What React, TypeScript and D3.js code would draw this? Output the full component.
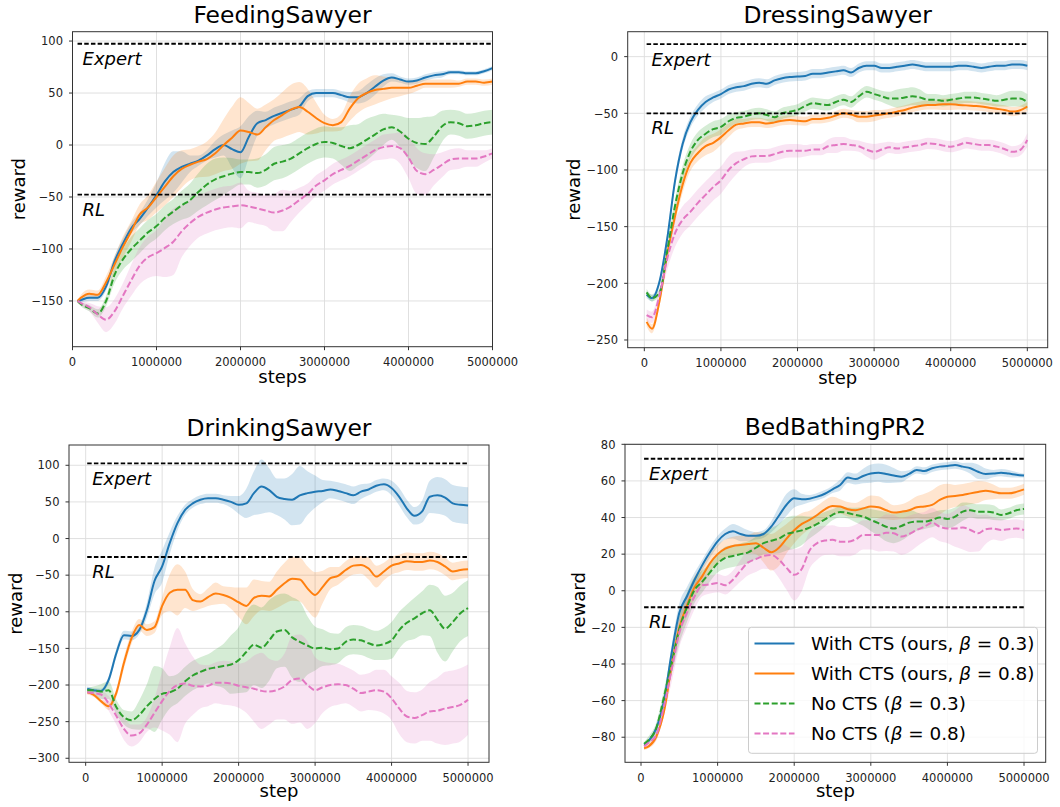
import React from 'react';
import * as d3 from 'd3';

// ---------- data ----------
// step grid (millions of steps) shared by all panels; each panel has its own first step
const GRID_M = [0.1, 0.2, 0.3, 0.4, 0.5, 0.6, 0.7, 0.8, 0.9, 1.0, 1.1, 1.2, 1.3, 1.4, 1.5, 1.6, 1.7, 1.8, 1.9, 2.0, 2.1, 2.2, 2.3, 2.4, 2.5, 2.6, 2.7, 2.8, 2.9, 3.0, 3.1, 3.2, 3.3, 3.4, 3.5, 3.6, 3.7, 3.8, 3.9, 4.0, 4.1, 4.2, 4.3, 4.4, 4.5, 4.6, 4.7, 4.8, 4.9, 5.0];

const SERIES_NAMES = ['With CTS (ours, β = 0.3)', 'With CTS (ours, β = 0.8)', 'No CTS (β = 0.3)', 'No CTS (β = 0.8)'];
const SERIES_COLORS = ['#1f77b4', '#ff7f0e', '#2ca02c', '#e377c2'];
const SERIES_DASHED = [false, false, true, true];

// FeedingSawyer
const FEED_START = 0.06;
const FEED_EXPERT = 97.4;
const FEED_RL = -47.8;
const FEED_CTS03 = [-150, -149, -147, -147, -136, -112, -95, -80, -71, -60, -48, -35, -26, -21, -18, -15, -10, -4, 0, -4, -7, 8, 21, 24, 28, 31, 34, 37, 47, 50, 50, 50, 48, 46, 46, 50, 56, 62, 65, 63, 61, 62, 65, 67, 68, 70, 70, 69, 69, 71, 74];
const FEED_CTS03_SD = [1, 2, 3, 3, 4, 5, 5, 5, 6, 8, 12, 18, 20, 15, 8, 5, 5, 8, 10, 18, 25, 20, 12, 8, 8, 8, 8, 8, 5, 4, 4, 4, 4, 5, 6, 8, 8, 6, 4, 3, 3, 3, 3, 3, 3, 2, 2, 2, 2, 2, 2];
const FEED_CTS08 = [-150, -147, -143, -144, -132, -115, -98, -83, -67, -60, -50, -40, -30, -23, -19, -16, -13.5, -8, 0, 7, 14, 12.5, 10, 17, 24, 29, 34, 36.5, 32, 26, 21, 19, 22, 35, 45, 50, 53, 54, 55, 55, 55, 57, 59, 59, 59, 59, 59, 61, 61, 60, 61];
const FEED_CTS08_SD = [1, 3, 4, 4, 6, 8, 10, 10, 10, 12, 15, 18, 20, 18, 15, 15, 17, 20, 25, 30, 32, 28, 25, 22, 20, 22, 24, 24, 22, 15, 8, 6, 8, 12, 14, 14, 14, 12, 10, 8, 6, 5, 4, 4, 4, 4, 3, 3, 3, 3, 3];
const FEED_NO03 = [-150, -153, -157, -162, -150, -125, -110, -100, -92, -84, -78, -70, -64, -58, -53, -45, -38, -33, -30, -27.5, -26, -26, -27, -24, -18, -16, -13, -8, -3, 1, 3, 2, -1, -3, 0, 5, 10, 15, 17, 13, 6, 2, 1, 8, 18, 22, 21, 18, 19, 21, 22];
const FEED_NO03_SD = [1, 2, 3, 4, 5, 8, 10, 12, 12, 12, 12, 12, 12, 14, 16, 18, 20, 20, 18, 15, 12, 12, 14, 15, 16, 16, 15, 15, 15, 15, 15, 15, 18, 22, 20, 20, 18, 15, 12, 15, 20, 24, 26, 20, 15, 12, 12, 12, 12, 12, 12];
const FEED_NO08 = [-150, -152, -156, -163, -168, -160, -145, -130, -116, -108, -104, -99, -93, -83, -75, -69, -65, -62, -60, -59, -58, -59, -61, -63, -65, -63, -59, -53, -47, -39, -34, -28, -24, -20, -15, -10, -5, -2, -1, -3, -12, -25, -28, -24, -19, -14, -13, -13, -13, -11, -8];
const FEED_NO08_SD = [1, 2, 4, 8, 12, 12, 12, 15, 18, 20, 22, 28, 32, 25, 22, 20, 20, 20, 20, 20, 22, 15, 15, 15, 18, 20, 15, 12, 10, 10, 10, 10, 10, 10, 10, 10, 10, 12, 12, 15, 20, 22, 20, 15, 12, 10, 10, 8, 8, 6, 5];

// DressingSawyer
const DRESS_START = 0.03;
const DRESS_EXPERT = 11;
const DRESS_RL = -50;
const DRESS_CTS03 = [-210, -213, -198, -160, -110, -77, -58, -47, -40, -36, -33, -29, -27, -26, -24, -23, -24, -21, -19, -18, -17.6, -17, -15, -15, -14, -13, -12, -14, -10, -8, -8, -10, -10, -9, -8, -7, -8, -9, -9, -9, -9, -8, -8, -9, -10, -9, -8, -8, -7, -7, -8];
const DRESS_CTS03_SD = [3, 3, 3, 4, 5, 5, 5, 5, 5, 4, 4, 4, 4, 4, 4, 4, 4, 4, 4, 4, 4, 4, 4, 4, 4, 4, 4, 4, 4, 4, 4, 4, 4, 4, 4, 4, 4, 4, 4, 4, 4, 4, 4, 4, 4, 4, 4, 4, 4, 4, 4];
const DRESS_CTS08 = [-234, -240, -215, -174, -141, -113, -94, -85, -79, -76, -71, -65, -60, -59, -58, -58, -59, -58, -56.5, -56, -56.5, -57, -55, -55, -54, -52, -50, -51, -53, -53, -52, -51, -50, -48.5, -47, -45, -43.5, -42.6, -42.6, -42, -42, -42.6, -43, -43.5, -44, -45, -46, -47, -48.5, -47.5, -44];
const DRESS_CTS08_SD = [4, 4, 4, 5, 6, 7, 7, 7, 8, 8, 7, 6, 5, 4, 4, 4, 4, 4, 4, 4, 4, 4, 4, 4, 4, 4, 4, 4, 5, 5, 5, 4, 4, 4, 4, 4, 4, 4, 4, 5, 5, 4, 4, 4, 4, 4, 4, 4, 4, 4, 4];
const DRESS_NO03 = [-208, -213, -208, -171, -132, -103, -84, -73.5, -68, -64, -62, -57, -54, -53, -51, -50, -51.5, -53.5, -50, -48.5, -47, -43.5, -41, -42, -42.6, -40, -38, -40, -35, -31, -33, -35, -37, -37, -36, -35, -36, -38, -38, -39, -38, -37, -36, -36, -37, -38, -39, -38, -37, -37, -40];
const DRESS_NO03_SD = [3, 3, 3, 4, 6, 7, 7, 7, 7, 7, 7, 6, 5, 5, 5, 5, 5, 5, 5, 5, 5, 5, 5, 5, 5, 5, 5, 5, 5, 5, 5, 5, 6, 8, 8, 8, 7, 5, 5, 5, 5, 5, 5, 5, 5, 5, 5, 6, 7, 7, 7];
const DRESS_NO08 = [-228, -230, -210, -178, -156, -144, -137, -129, -122, -115, -109, -100, -94, -90.5, -88, -87.6, -87.6, -86, -84, -83, -83, -83, -82, -82, -79, -78, -77, -78, -79, -82, -84, -82, -80, -81, -80, -79, -78, -76.5, -77, -78.5, -79.4, -78, -76, -77, -78, -78, -79.4, -81.5, -84, -82.6, -73.5];
const DRESS_NO08_SD = [5, 5, 6, 10, 12, 12, 12, 12, 12, 12, 12, 12, 10, 7, 6, 6, 6, 6, 6, 6, 6, 5, 5, 5, 6, 7, 6, 5, 5, 6, 7, 6, 5, 5, 5, 5, 5, 5, 5, 5, 5, 5, 5, 5, 5, 5, 5, 5, 5, 5, 6];

// DrinkingSawyer
const DRINK_START = 0.02;
const DRINK_EXPERT = 102.7;
const DRINK_RL = -25.2;
const DRINK_CTS03 = [-205, -207, -208, -193, -157, -132, -133, -125, -98, -58, -38, -6, 21, 39, 48, 53, 55, 55, 53, 50, 46, 48, 62, 71, 66, 57, 54, 53, 59, 62, 64, 65, 67, 65, 62, 59, 64, 67, 72, 74, 69, 57, 41, 31, 37, 57, 59, 56, 48, 46, 45];
const DRINK_CTS03_SD = [3, 3, 3, 5, 6, 6, 6, 6, 10, 18, 22, 15, 10, 7, 6, 6, 6, 6, 6, 8, 12, 20, 30, 37, 30, 25, 28, 35, 40, 30, 22, 15, 12, 12, 12, 12, 10, 8, 8, 8, 10, 12, 12, 12, 15, 22, 25, 25, 25, 25, 25];
const DRINK_CTS08 = [-210, -213, -222, -229, -211, -170, -136, -118, -125, -121, -92, -74, -70, -70, -84, -86, -80, -75, -77, -81, -87, -92, -81, -78, -79, -70, -61, -55, -56, -68, -77, -66, -54, -51, -43, -37, -36, -41, -52, -45, -37, -34, -31, -32, -32, -30, -32, -38, -45, -43, -42];
const DRINK_CTS08_SD = [3, 3, 3, 5, 6, 8, 8, 8, 8, 8, 12, 25, 35, 25, 15, 10, 12, 15, 12, 15, 20, 25, 25, 20, 20, 25, 28, 30, 30, 30, 31, 22, 15, 12, 12, 12, 12, 15, 15, 12, 12, 12, 12, 12, 12, 12, 12, 12, 12, 12, 12];
const DRINK_NO03 = [-207, -207, -209, -207, -230, -244, -248, -241, -229, -219, -212, -210, -205, -195, -187, -182, -178, -176, -174, -172, -166, -155, -145, -149, -139, -127, -125, -135, -141, -146, -150, -149, -151, -150, -141, -138, -139, -143, -146, -144, -139, -125, -115, -109, -102, -98, -111, -123, -114, -102, -95];
const DRINK_NO03_SD = [3, 5, 10, 12, 10, 10, 12, 20, 30, 45, 35, 22, 20, 20, 20, 20, 20, 25, 30, 40, 45, 55, 55, 55, 55, 50, 50, 55, 55, 40, 30, 25, 22, 20, 20, 20, 20, 20, 20, 22, 25, 25, 25, 28, 30, 35, 45, 45, 40, 38, 38];
const DRINK_NO08 = [-210, -211, -213, -225, -242, -260, -269, -266, -254, -238, -222, -208, -200, -198, -201, -202, -201, -197, -197, -198, -201, -203, -205, -208, -209, -207, -202, -193, -191, -200, -207, -203, -200, -199, -200, -205, -211, -209, -207, -209, -218, -232, -243, -245, -241, -236, -235, -232, -230, -227, -220];
const DRINK_NO08_SD = [2, 3, 5, 10, 12, 15, 15, 12, 10, 20, 40, 60, 78, 55, 40, 30, 28, 28, 30, 30, 30, 35, 45, 52, 45, 40, 45, 60, 60, 60, 45, 35, 30, 28, 25, 25, 25, 25, 28, 30, 30, 35, 35, 35, 35, 40, 45, 50, 50, 50, 48];

// BedBathingPR2
const BATH_START = 0.04;
const BATH_EXPERT = 72.1;
const BATH_RL = -9.0;
const BATH_CTS03 = [-84, -82, -75, -60, -34, -12, -3, 6, 14, 21, 27, 31, 32.5, 31, 30, 30, 31, 35, 41, 47, 50.5, 50, 50.3, 51.4, 53, 55.4, 57.8, 61.8, 61, 62.7, 64, 64.5, 63.8, 63, 62.3, 63.8, 66, 65.4, 66.9, 67.8, 68.2, 68.7, 67.8, 66.9, 65, 63.8, 64, 64.5, 64, 63.4, 62.9];
const BATH_CTS03_SD = [1, 1, 2, 3, 4, 5, 5, 4, 3, 3, 3, 3, 4, 4, 3, 2, 2, 3, 5, 6, 5, 3, 2, 2, 2, 2, 3, 3, 3, 4, 5, 5, 5, 4, 3, 2, 2, 2, 2, 2, 2, 2, 2, 3, 4, 3, 2, 2, 2, 1.5, 1];
const BATH_CTS08 = [-86, -85, -79.6, -66, -41, -20, -8, 2, 8, 15, 20, 23, 24.5, 25, 25.5, 26, 23.5, 21, 23.5, 28.5, 33, 36.5, 38.7, 41.4, 44.5, 46.3, 46, 44.5, 44, 45, 46, 45.6, 44, 42.7, 43.2, 44, 45.6, 46, 46.9, 49.6, 51.4, 51.8, 52.3, 53.2, 54, 54.6, 54, 53.2, 53.2, 54, 55.4];
const BATH_CTS08_SD = [1, 1, 2, 2, 4, 5, 6, 6, 5, 5, 5, 5, 5, 5, 5, 6, 8, 10, 10, 8, 7, 6, 5, 5, 5, 5, 4, 4, 4, 5, 6, 6, 5, 4, 4, 5, 6, 7, 8, 8, 7, 6, 6, 6, 6, 5, 4, 3, 3, 3, 3];
const BATH_NO03 = [-83.6, -81.5, -75, -58, -39.6, -21, -9, 0.5, 5, 10, 15, 18, 19, 20, 21, 23.5, 26, 27.3, 28.5, 31, 32, 33, 34.5, 36.5, 39, 41.5, 43, 42.5, 41.4, 40.5, 38.7, 36.9, 35, 34, 35.4, 37.2, 37.8, 37.8, 38.7, 40, 39.2, 40.5, 43.2, 44, 43.2, 43.2, 42.7, 41.4, 42.3, 44, 44.7];
const BATH_NO03_SD = [1, 2, 3, 4, 6, 8, 8, 7, 6, 5, 5, 6, 6, 6, 6, 6, 6, 7, 8, 9, 9, 8, 6, 5, 4, 3, 3, 3, 4, 5, 6, 7, 8, 8, 8, 7, 5, 4, 4, 4, 5, 5, 5, 4, 4, 4, 4, 3, 3, 3, 3];
const BATH_NO08 = [-85, -83, -78.7, -63, -43, -23, -12, -3, 3, 3.5, 4.2, 3, 6, 11, 15.5, 17.3, 19, 19.6, 17, 12.5, 8.7, 12, 22, 26, 27.5, 27.8, 26.8, 26.8, 28, 30.5, 30.5, 30.5, 31.7, 31.4, 29.6, 31, 33.2, 35, 37.2, 35, 34, 34, 34.6, 33.2, 31.4, 33.6, 34, 33.2, 33.6, 34, 33.2];
const BATH_NO08_SD = [1, 2, 3, 5, 7, 8, 8, 7, 6, 5, 5, 5, 5, 6, 7, 7, 7, 8, 10, 12, 14, 12, 10, 9, 8, 8, 8, 8, 8, 8, 8, 9, 10, 10, 10, 10, 9, 8, 8, 8, 8, 10, 12, 12, 10, 8, 6, 6, 5, 5, 5];

const X_TICKS = [0, 1000000, 2000000, 3000000, 4000000, 5000000];
const FEED_Y_TICKS = [-150, -100, -50, 0, 50, 100];
const DRESS_Y_TICKS = [-250, -200, -150, -100, -50, 0];
const DRINK_Y_TICKS = [-300, -250, -200, -150, -100, -50, 0, 50, 100];
const BATH_Y_TICKS = [-80, -60, -40, -20, 0, 20, 40, 60, 80];

// ---------- layout ----------
const FONT = "'DejaVu Sans', 'Liberation Sans', sans-serif";
const LW = 2;

type Panel = {
  title: string; xlabel: string; start: number; expert: number; rl: number;
  means: number[][]; sds: number[][]; yTicks: number[];
  left: number; right: number; top: number; bottom: number;
  xDomain: [number, number]; yDomain: [number, number];
  ylabelX: number; xlabelY: number; legend?: boolean;
};

const PANELS: Panel[] = [
  {
    title: 'FeedingSawyer', xlabel: 'steps', start: FEED_START, expert: FEED_EXPERT, rl: FEED_RL,
    means: [FEED_CTS03, FEED_CTS08, FEED_NO03, FEED_NO08], sds: [FEED_CTS03_SD, FEED_CTS08_SD, FEED_NO03_SD, FEED_NO08_SD],
    yTicks: FEED_Y_TICKS, left: 72.5, right: 492.5, top: 31.7, bottom: 346.7,
    xDomain: [0, 5000000], yDomain: [-194, 109], ylabelX: 25, xlabelY: 383,
  },
  {
    title: 'DressingSawyer', xlabel: 'step', start: DRESS_START, expert: DRESS_EXPERT, rl: DRESS_RL,
    means: [DRESS_CTS03, DRESS_CTS08, DRESS_NO03, DRESS_NO08], sds: [DRESS_CTS03_SD, DRESS_CTS08_SD, DRESS_NO03_SD, DRESS_NO08_SD],
    yTicks: DRESS_Y_TICKS, left: 627.7, right: 1047.7, top: 31.7, bottom: 347.7,
    xDomain: [-217000, 5266000], yDomain: [-256.8, 22], ylabelX: 580, xlabelY: 383.5,
  },
  {
    title: 'DrinkingSawyer', xlabel: 'step', start: DRINK_START, expert: DRINK_EXPERT, rl: DRINK_RL,
    means: [DRINK_CTS03, DRINK_CTS08, DRINK_NO03, DRINK_NO08], sds: [DRINK_CTS03_SD, DRINK_CTS08_SD, DRINK_NO03_SD, DRINK_NO08_SD],
    yTicks: DRINK_Y_TICKS, left: 69, right: 489, top: 445, bottom: 762.3,
    xDomain: [-218000, 5274000], yDomain: [-305.5, 127.7], ylabelX: 21.7, xlabelY: 797,
  },
  {
    title: 'BedBathingPR2', xlabel: 'step', start: BATH_START, expert: BATH_EXPERT, rl: BATH_RL,
    means: [BATH_CTS03, BATH_CTS08, BATH_NO03, BATH_NO08], sds: [BATH_CTS03_SD, BATH_CTS08_SD, BATH_NO03_SD, BATH_NO08_SD],
    yTicks: BATH_Y_TICKS, left: 625, right: 1045.7, top: 444.3, bottom: 762.3,
    xDomain: [-209000, 5283000], yDomain: [-93.7, 80], ylabelX: 585, xlabelY: 797, legend: true,
  },
];

const fmt = (v: number) => (v < 0 ? '\u2212' + Math.abs(v) : String(v));

function Legend({ x, y }: { x: number; y: number }) {
  return (
    <g>
      <rect x={x} y={y} width={289} height={126} rx={3} fill="white" fillOpacity={0.8} stroke="#cccccc" strokeWidth={1} />
      {SERIES_NAMES.map((name, i) => {
        const cy = y + 16.3 + i * 30;
        const parts = name.split('β');
        return (
          <g key={name}>
            <line x1={x + 6} x2={x + 46} y1={cy} y2={cy} stroke={SERIES_COLORS[i]} strokeWidth={LW}
              strokeDasharray={SERIES_DASHED[i] ? '6,2.6' : undefined} />
            <text x={x + 62.5} y={cy + 6.6} fontSize={18.4} fontFamily={FONT} fill="#000">
              {parts[0]}<tspan fontStyle="italic">β</tspan>{parts[1]}
            </text>
          </g>
        );
      })}
    </g>
  );
}

function PanelView({ p, idx }: { p: Panel; idx: number }) {
  const x = d3.scaleLinear().domain(p.xDomain).range([p.left, p.right]);
  const y = d3.scaleLinear().domain(p.yDomain).range([p.bottom, p.top]);
  const steps = [p.start, ...GRID_M].map((s) => s * 1e6);
  const clipId = `clip${idx}`;
  const xTicks = X_TICKS.filter((t) => t >= p.xDomain[0] && t <= p.xDomain[1]);
  const x0 = steps[0];
  const x1 = steps[steps.length - 1];

  return (
    <g>
      <defs>
        <clipPath id={clipId}>
          <rect x={p.left} y={p.top} width={p.right - p.left} height={p.bottom - p.top} />
        </clipPath>
      </defs>
      {/* grid */}
      <g stroke="#dcdcdc" strokeWidth={0.9}>
        {xTicks.map((t) => (
          <line key={'gx' + t} x1={x(t)} x2={x(t)} y1={p.top} y2={p.bottom} />
        ))}
        {p.yTicks.map((t) => (
          <line key={'gy' + t} x1={p.left} x2={p.right} y1={y(t)} y2={y(t)} />
        ))}
      </g>
      <g clipPath={`url(#${clipId})`}>
        {p.means.map((m, si) => {
          const sd = p.sds[si];
          const area = d3.area<number>()
            .x((_, i) => x(steps[i]))
            .y0((_, i) => y(m[i] - sd[i]))
            .y1((_, i) => y(m[i] + sd[i]))
            .curve(d3.curveMonotoneX);
          return <path key={'a' + si} d={area(m) || ''} fill={SERIES_COLORS[si]} fillOpacity={0.2} stroke="none" />;
        })}
        {p.means.map((m, si) => {
          const line = d3.line<number>()
            .x((_, i) => x(steps[i]))
            .y((d) => y(d))
            .curve(d3.curveMonotoneX);
          return (
            <path key={'l' + si} d={line(m) || ''} fill="none" stroke={SERIES_COLORS[si]} strokeWidth={LW}
              strokeDasharray={SERIES_DASHED[si] ? '6.5,2.7' : undefined} />
          );
        })}
        {/* expert & RL reference lines */}
        {[p.expert, p.rl].map((v, k) => (
          <line key={'h' + k} x1={x(x0)} x2={x(x1)} y1={y(v)} y2={y(v)} stroke="#000" strokeWidth={1.8} strokeDasharray="4.5,2.2" />
        ))}
      </g>
      <text x={x(x0) + 5} y={y(p.expert) + 21.5} fontSize={18} fontStyle="italic" fontFamily={FONT} fill="#000">Expert</text>
      <text x={x(x0) + 5} y={y(p.rl) + 21} fontSize={18} fontStyle="italic" fontFamily={FONT} fill="#000">RL</text>
      {/* spines */}
      <rect x={p.left} y={p.top} width={p.right - p.left} height={p.bottom - p.top} fill="none" stroke="#333" strokeWidth={1} />
      {/* x ticks */}
      {xTicks.map((t) => (
        <g key={'xt' + t}>
          <line x1={x(t)} x2={x(t)} y1={p.bottom} y2={p.bottom + 3.5} stroke="#333" strokeWidth={1} />
          <text x={x(t)} y={p.bottom + 19.5} fontSize={11.5} fontFamily={FONT} textAnchor="middle" fill="#222">{fmt(t)}</text>
        </g>
      ))}
      {/* y ticks */}
      {p.yTicks.map((t) => (
        <g key={'yt' + t}>
          <line x1={p.left - 3.5} x2={p.left} y1={y(t)} y2={y(t)} stroke="#333" strokeWidth={1} />
          <text x={p.left - 9.5} y={y(t) + 4.2} fontSize={11.5} fontFamily={FONT} textAnchor="end" fill="#222">{fmt(t)}</text>
        </g>
      ))}
      {/* labels */}
      <text x={(p.left + p.right) / 2} y={p.top - 9} fontSize={23.4} fontFamily={FONT} textAnchor="middle" fill="#000">{p.title}</text>
      <text x={(p.left + p.right) / 2} y={p.xlabelY} fontSize={18} fontFamily={FONT} textAnchor="middle" fill="#000">{p.xlabel}</text>
      <text transform={`translate(${p.ylabelX},${(p.top + p.bottom) / 2}) rotate(-90)`} fontSize={18} fontFamily={FONT} textAnchor="middle" fill="#000">reward</text>
      {p.legend && <Legend x={748.5} y={627.3} />}
    </g>
  );
}

export default function App() {
  return (
    <svg width={1060} height={807} viewBox="0 0 1060 807"
      style={{ position: 'absolute', left: 0, top: 0, background: '#fff', display: 'block' }}>
      <rect x={0} y={0} width={1060} height={807} fill="#fff" />
      {PANELS.map((p, i) => <PanelView key={p.title} p={p} idx={i} />)}
    </svg>
  );
}
